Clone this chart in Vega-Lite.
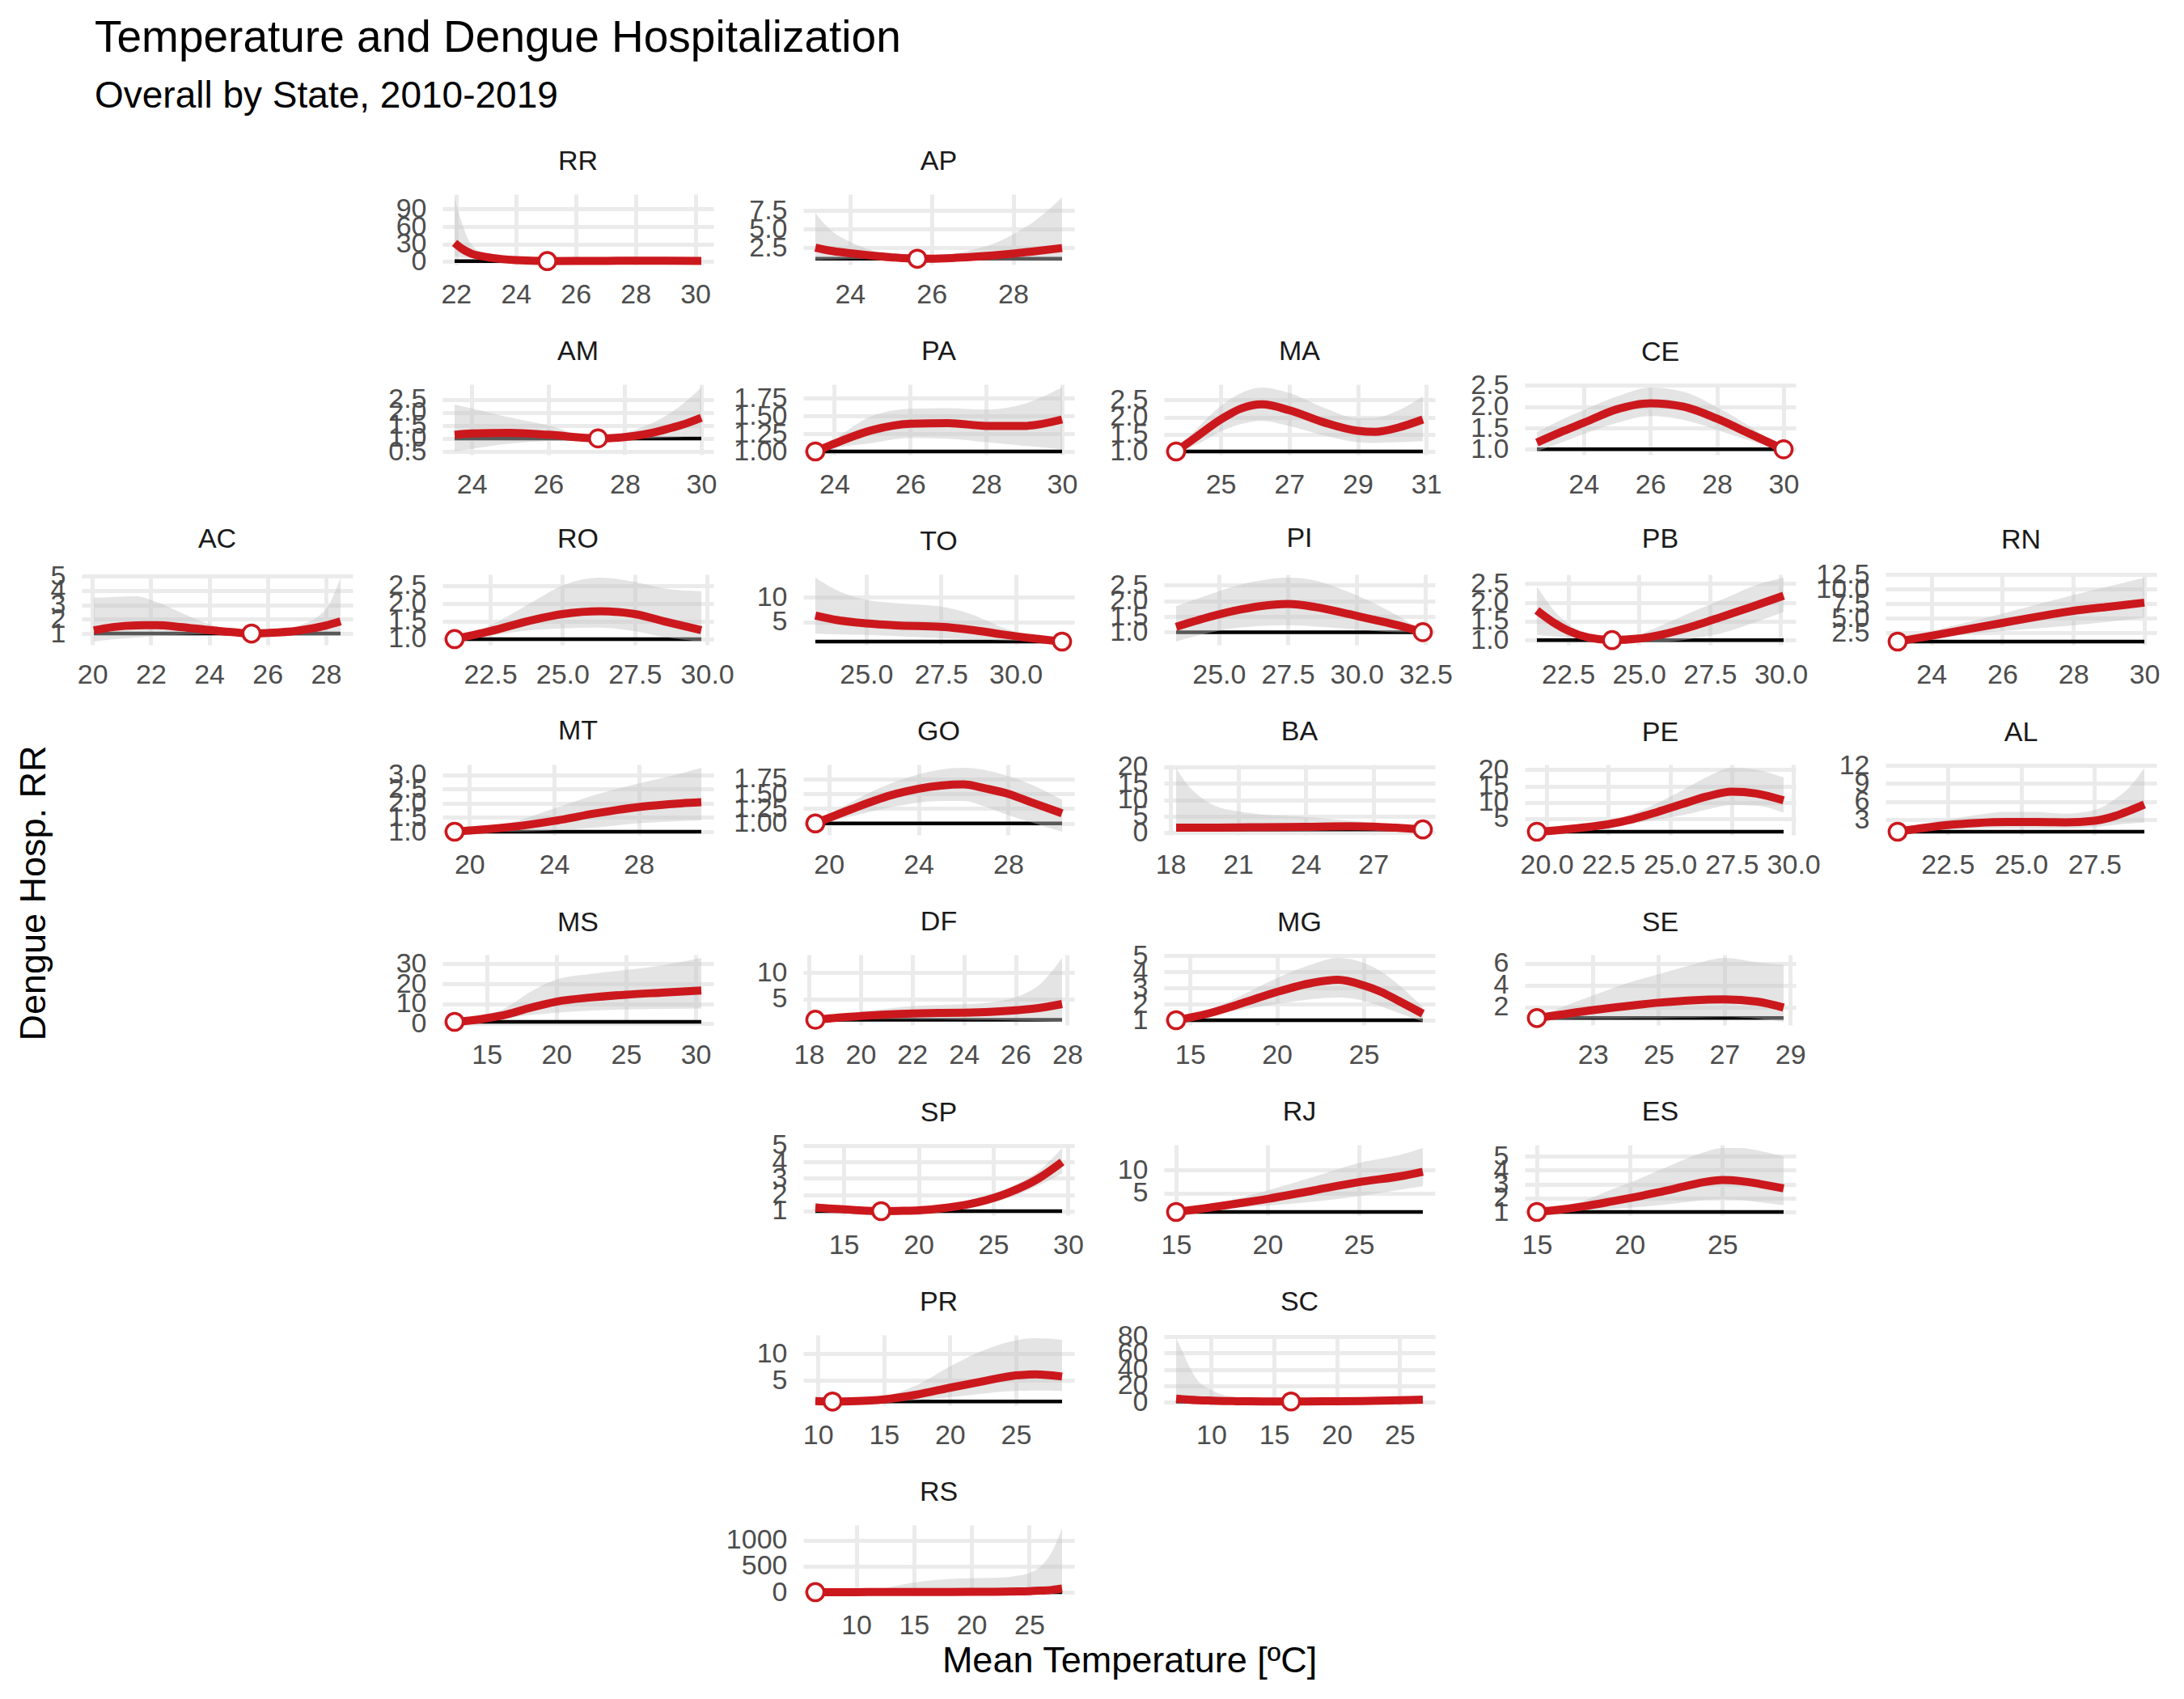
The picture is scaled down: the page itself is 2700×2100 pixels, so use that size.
{
"$schema": "https://vega.github.io/schema/vega-lite/v6.json",
"background": "white",
"padding": {"left": 20, "top": 20, "right": 5, "bottom": 5},
"config": {
  "font": "Liberation Sans",
  "view": {"stroke": null},
  "axis": {"grid": true, "gridColor": "#EBEBEB", "gridWidth": 5, "domain": false, "ticks": false, "labelFontSize": 34, "labelColor": "#4D4D4D", "labelPadding": 20, "labelOverlap": false, "labelFlush": false, "labelFont": "Liberation Sans"},
  "title": {"fontSize": 34, "fontWeight": "normal", "color": "#1A1A1A", "anchor": "middle", "frame": "group", "offset": 23, "baseline": "alphabetic", "font": "Liberation Sans"}
},
"datasets": {"d": [
{"s":"RR","t":21.95,"r":32,"lo":9,"hi":110},{"s":"RR","t":22.2,"r":22,"lo":7,"hi":65},{"s":"RR","t":22.5,"r":14,"lo":6,"hi":30},{"s":"RR","t":23,"r":8,"lo":4,"hi":13},{"s":"RR","t":23.5,"r":4.5,"lo":2.5,"hi":7},{"s":"RR","t":24,"r":2.5,"lo":1.5,"hi":4},{"s":"RR","t":25.05,"r":1,"lo":1,"hi":1,"m":1},{"s":"RR","t":26,"r":1.1,"lo":0.6,"hi":2},{"s":"RR","t":27,"r":1.3,"lo":0.6,"hi":2.5},{"s":"RR","t":28,"r":1.5,"lo":0.7,"hi":3},{"s":"RR","t":29,"r":1.4,"lo":0.6,"hi":3},{"s":"RR","t":30.2,"r":1.3,"lo":0.5,"hi":3},
{"s":"AP","t":23.15,"r":2.5,"lo":0.85,"hi":7.2},{"s":"AP","t":23.5,"r":2.1,"lo":0.9,"hi":5},{"s":"AP","t":24,"r":1.75,"lo":0.95,"hi":3.3},{"s":"AP","t":24.5,"r":1.45,"lo":0.97,"hi":2.2},{"s":"AP","t":25,"r":1.2,"lo":0.98,"hi":1.5},{"s":"AP","t":25.65,"r":1,"lo":1,"hi":1,"m":1},{"s":"AP","t":26.5,"r":1.1,"lo":0.8,"hi":1.6},{"s":"AP","t":27,"r":1.25,"lo":0.75,"hi":2.2},{"s":"AP","t":27.5,"r":1.45,"lo":0.72,"hi":3},{"s":"AP","t":28,"r":1.7,"lo":0.7,"hi":4.3},{"s":"AP","t":28.5,"r":2,"lo":0.68,"hi":6},{"s":"AP","t":29.2,"r":2.45,"lo":0.65,"hi":9.3},
{"s":"AM","t":23.55,"r":1.14,"lo":0.5,"hi":2.3},{"s":"AM","t":24,"r":1.19,"lo":0.6,"hi":2.15},{"s":"AM","t":25,"r":1.21,"lo":0.8,"hi":1.8},{"s":"AM","t":26,"r":1.14,"lo":0.9,"hi":1.5},{"s":"AM","t":27.3,"r":1,"lo":1,"hi":1,"m":1},{"s":"AM","t":28,"r":1.05,"lo":1,"hi":1.2},{"s":"AM","t":28.5,"r":1.15,"lo":1,"hi":1.45},{"s":"AM","t":29,"r":1.32,"lo":1.02,"hi":1.8},{"s":"AM","t":29.5,"r":1.52,"lo":1.05,"hi":2.3},{"s":"AM","t":30,"r":1.79,"lo":1.1,"hi":2.95},
{"s":"PA","t":23.5,"r":1,"lo":1,"hi":1,"m":1},{"s":"PA","t":24,"r":1.11,"lo":1.05,"hi":1.17},{"s":"PA","t":25,"r":1.3,"lo":1.12,"hi":1.5},{"s":"PA","t":26,"r":1.39,"lo":1.19,"hi":1.6},{"s":"PA","t":27,"r":1.4,"lo":1.18,"hi":1.61},{"s":"PA","t":28,"r":1.36,"lo":1.13,"hi":1.59},{"s":"PA","t":29,"r":1.36,"lo":1.08,"hi":1.67},{"s":"PA","t":30,"r":1.45,"lo":1.03,"hi":1.9},
{"s":"MA","t":23.7,"r":1,"lo":1,"hi":1,"m":1},{"s":"MA","t":24.3,"r":1.43,"lo":1.2,"hi":1.66},{"s":"MA","t":25,"r":1.93,"lo":1.58,"hi":2.32},{"s":"MA","t":25.6,"r":2.25,"lo":1.8,"hi":2.7},{"s":"MA","t":26.2,"r":2.37,"lo":1.89,"hi":2.86},{"s":"MA","t":27,"r":2.2,"lo":1.74,"hi":2.7},{"s":"MA","t":28,"r":1.85,"lo":1.47,"hi":2.28},{"s":"MA","t":29,"r":1.6,"lo":1.27,"hi":1.97},{"s":"MA","t":29.5,"r":1.57,"lo":1.25,"hi":1.98},{"s":"MA","t":30.2,"r":1.7,"lo":1.27,"hi":2.2},{"s":"MA","t":30.9,"r":1.93,"lo":1.3,"hi":2.6},
{"s":"CE","t":22.6,"r":1.16,"lo":0.95,"hi":1.4},{"s":"CE","t":23.3,"r":1.4,"lo":1.15,"hi":1.68},{"s":"CE","t":24,"r":1.62,"lo":1.36,"hi":1.92},{"s":"CE","t":25,"r":1.94,"lo":1.62,"hi":2.24},{"s":"CE","t":26,"r":2.08,"lo":1.78,"hi":2.45},{"s":"CE","t":27,"r":2,"lo":1.69,"hi":2.35},{"s":"CE","t":28,"r":1.72,"lo":1.46,"hi":1.99},{"s":"CE","t":29,"r":1.36,"lo":1.2,"hi":1.53},{"s":"CE","t":30,"r":1,"lo":1,"hi":1,"m":1},
{"s":"AC","t":20.05,"r":1.22,"lo":0.44,"hi":3.5},{"s":"AC","t":20.7,"r":1.45,"lo":0.6,"hi":3.55},{"s":"AC","t":21.5,"r":1.57,"lo":0.72,"hi":3.6},{"s":"AC","t":22.2,"r":1.58,"lo":0.83,"hi":3.2},{"s":"AC","t":23,"r":1.46,"lo":0.9,"hi":2.48},{"s":"AC","t":24,"r":1.24,"lo":0.96,"hi":1.65},{"s":"AC","t":25,"r":1.06,"lo":0.99,"hi":1.15},{"s":"AC","t":25.45,"r":1,"lo":1,"hi":1,"m":1},{"s":"AC","t":26,"r":1.04,"lo":0.96,"hi":1.1},{"s":"AC","t":27,"r":1.19,"lo":0.9,"hi":1.5},{"s":"AC","t":28,"r":1.56,"lo":0.86,"hi":2.7},{"s":"AC","t":28.5,"r":1.85,"lo":0.85,"hi":4.9},
{"s":"RO","t":21.27,"r":1,"lo":1,"hi":1,"m":1},{"s":"RO","t":22.5,"r":1.22,"lo":1.1,"hi":1.38},{"s":"RO","t":24,"r":1.54,"lo":1.26,"hi":2.06},{"s":"RO","t":25,"r":1.7,"lo":1.3,"hi":2.5},{"s":"RO","t":26.3,"r":1.78,"lo":1.32,"hi":2.72},{"s":"RO","t":27.5,"r":1.7,"lo":1.22,"hi":2.6},{"s":"RO","t":28.5,"r":1.5,"lo":1.06,"hi":2.42},{"s":"RO","t":29.8,"r":1.25,"lo":0.93,"hi":2.34},
{"s":"TO","t":23.3,"r":6.3,"lo":2.6,"hi":14},{"s":"TO","t":24,"r":5.4,"lo":2.5,"hi":11.5},{"s":"TO","t":25,"r":4.7,"lo":2.35,"hi":9.5},{"s":"TO","t":26,"r":4.3,"lo":2.1,"hi":8.8},{"s":"TO","t":27.5,"r":4,"lo":1.7,"hi":8.1},{"s":"TO","t":28.5,"r":3.4,"lo":1.5,"hi":6.6},{"s":"TO","t":29.5,"r":2.5,"lo":1.25,"hi":4},{"s":"TO","t":30.5,"r":1.7,"lo":1.1,"hi":2.2},{"s":"TO","t":31.55,"r":1,"lo":1,"hi":1,"m":1},
{"s":"PI","t":23.45,"r":1.17,"lo":0.7,"hi":1.83},{"s":"PI","t":24.5,"r":1.45,"lo":0.95,"hi":2.15},{"s":"PI","t":25.5,"r":1.67,"lo":1.12,"hi":2.45},{"s":"PI","t":26.5,"r":1.83,"lo":1.2,"hi":2.65},{"s":"PI","t":27.5,"r":1.9,"lo":1.22,"hi":2.74},{"s":"PI","t":28.5,"r":1.8,"lo":1.18,"hi":2.65},{"s":"PI","t":29.5,"r":1.62,"lo":1.12,"hi":2.35},{"s":"PI","t":30.5,"r":1.42,"lo":1.05,"hi":1.98},{"s":"PI","t":31.5,"r":1.22,"lo":1,"hi":1.52},{"s":"PI","t":32.4,"r":1,"lo":1,"hi":1,"m":1},
{"s":"PB","t":21.4,"r":1.79,"lo":1.14,"hi":2.43},{"s":"PB","t":22,"r":1.46,"lo":1.1,"hi":1.79},{"s":"PB","t":22.5,"r":1.25,"lo":1.07,"hi":1.43},{"s":"PB","t":23.2,"r":1.07,"lo":1.02,"hi":1.14},{"s":"PB","t":24.05,"r":1,"lo":1,"hi":1,"m":1},{"s":"PB","t":25,"r":1.04,"lo":0.96,"hi":1.15},{"s":"PB","t":26,"r":1.18,"lo":0.96,"hi":1.46},{"s":"PB","t":27,"r":1.39,"lo":1.05,"hi":1.79},{"s":"PB","t":28,"r":1.64,"lo":1.2,"hi":2.1},{"s":"PB","t":29,"r":1.89,"lo":1.45,"hi":2.43},{"s":"PB","t":30.1,"r":2.18,"lo":1.75,"hi":2.66},
{"s":"RN","t":23.05,"r":1,"lo":1,"hi":1,"m":1},{"s":"RN","t":24,"r":2,"lo":1.7,"hi":2.8},{"s":"RN","t":25,"r":3.1,"lo":2.3,"hi":4.3},{"s":"RN","t":26,"r":4.2,"lo":2.8,"hi":5.8},{"s":"RN","t":27,"r":5.3,"lo":3.3,"hi":7.4},{"s":"RN","t":28,"r":6.3,"lo":3.8,"hi":9},{"s":"RN","t":29,"r":7,"lo":4.4,"hi":10.5},{"s":"RN","t":30,"r":7.7,"lo":5.1,"hi":12},
{"s":"MT","t":19.3,"r":1,"lo":1,"hi":1,"m":1},{"s":"MT","t":20,"r":1.04,"lo":1,"hi":1.05},{"s":"MT","t":22,"r":1.17,"lo":1,"hi":1.33},{"s":"MT","t":24,"r":1.38,"lo":1.05,"hi":1.82},{"s":"MT","t":26,"r":1.65,"lo":1.15,"hi":2.31},{"s":"MT","t":28,"r":1.87,"lo":1.3,"hi":2.7},{"s":"MT","t":30,"r":2,"lo":1.38,"hi":3.05},{"s":"MT","t":30.95,"r":2.04,"lo":1.4,"hi":3.25},
{"s":"GO","t":19.4,"r":1,"lo":1,"hi":1,"m":1},{"s":"GO","t":21,"r":1.24,"lo":1.12,"hi":1.36},{"s":"GO","t":23,"r":1.5,"lo":1.29,"hi":1.71},{"s":"GO","t":25,"r":1.64,"lo":1.38,"hi":1.91},{"s":"GO","t":26,"r":1.66,"lo":1.38,"hi":1.94},{"s":"GO","t":27,"r":1.59,"lo":1.28,"hi":1.9},{"s":"GO","t":28,"r":1.5,"lo":1.14,"hi":1.8},{"s":"GO","t":29,"r":1.36,"lo":1.02,"hi":1.66},{"s":"GO","t":30.4,"r":1.17,"lo":0.86,"hi":1.4},
{"s":"BA","t":18.25,"r":1.5,"lo":0.3,"hi":19.7},{"s":"BA","t":18.7,"r":1.5,"lo":0.4,"hi":15},{"s":"BA","t":19.3,"r":1.52,"lo":0.5,"hi":11},{"s":"BA","t":20,"r":1.55,"lo":0.65,"hi":8.1},{"s":"BA","t":21,"r":1.6,"lo":0.8,"hi":6.5},{"s":"BA","t":22,"r":1.65,"lo":0.9,"hi":5.6},{"s":"BA","t":24,"r":1.8,"lo":1.05,"hi":4.8},{"s":"BA","t":26,"r":1.95,"lo":1.1,"hi":3.6},{"s":"BA","t":27,"r":1.85,"lo":1.1,"hi":2.9},{"s":"BA","t":28,"r":1.5,"lo":1.05,"hi":1.9},{"s":"BA","t":29.2,"r":1,"lo":1,"hi":1,"m":1},
{"s":"PE","t":19.6,"r":1,"lo":1,"hi":1,"m":1},{"s":"PE","t":20.5,"r":1.5,"lo":1.3,"hi":1.7},{"s":"PE","t":21.5,"r":2.3,"lo":1.8,"hi":2.8},{"s":"PE","t":22.5,"r":3.3,"lo":2.5,"hi":4.2},{"s":"PE","t":23.5,"r":4.9,"lo":3.5,"hi":6.6},{"s":"PE","t":24.5,"r":7.1,"lo":4.8,"hi":9.8},{"s":"PE","t":25.5,"r":9.5,"lo":6,"hi":13.7},{"s":"PE","t":26.5,"r":11.8,"lo":7.8,"hi":17.8},{"s":"PE","t":27.5,"r":13.3,"lo":9.2,"hi":20.6},{"s":"PE","t":28.5,"r":12.7,"lo":9,"hi":20},{"s":"PE","t":29.6,"r":10.6,"lo":6.8,"hi":17.6},
{"s":"AL","t":20.8,"r":1,"lo":1,"hi":1,"m":1},{"s":"AL","t":21.5,"r":1.5,"lo":1.15,"hi":2.1},{"s":"AL","t":22.5,"r":2.1,"lo":1.4,"hi":3},{"s":"AL","t":23.5,"r":2.45,"lo":1.55,"hi":3.8},{"s":"AL","t":24.5,"r":2.6,"lo":1.6,"hi":4.3},{"s":"AL","t":25.5,"r":2.6,"lo":1.55,"hi":4.3},{"s":"AL","t":26.5,"r":2.55,"lo":1.55,"hi":4},{"s":"AL","t":27.5,"r":2.8,"lo":1.75,"hi":4.6},{"s":"AL","t":28.2,"r":3.6,"lo":2.15,"hi":6.4},{"s":"AL","t":28.7,"r":4.5,"lo":2.35,"hi":8.4},{"s":"AL","t":29.2,"r":5.5,"lo":2.5,"hi":11.6},
{"s":"MS","t":12.7,"r":1,"lo":1,"hi":1,"m":1},{"s":"MS","t":14,"r":1.8,"lo":1.3,"hi":2.2},{"s":"MS","t":15,"r":2.8,"lo":1.7,"hi":4.2},{"s":"MS","t":16.5,"r":4.8,"lo":2.8,"hi":8.5},{"s":"MS","t":18,"r":7.8,"lo":4.3,"hi":15.5},{"s":"MS","t":20,"r":11.1,"lo":5.6,"hi":22.2},{"s":"MS","t":22.5,"r":13.2,"lo":6.7,"hi":25},{"s":"MS","t":25,"r":14.6,"lo":7.2,"hi":27},{"s":"MS","t":27.5,"r":15.6,"lo":7.5,"hi":29.2},{"s":"MS","t":30.4,"r":16.7,"lo":7.7,"hi":33},
{"s":"DF","t":18.25,"r":1,"lo":1,"hi":1,"m":1},{"s":"DF","t":19,"r":1.35,"lo":1.05,"hi":1.7},{"s":"DF","t":20,"r":1.7,"lo":1.1,"hi":2.5},{"s":"DF","t":21,"r":2,"lo":1.12,"hi":3.1},{"s":"DF","t":22,"r":2.2,"lo":1.1,"hi":3.6},{"s":"DF","t":23,"r":2.28,"lo":1.05,"hi":3.8},{"s":"DF","t":24,"r":2.35,"lo":1,"hi":3.95},{"s":"DF","t":25,"r":2.5,"lo":0.95,"hi":4.3},{"s":"DF","t":26,"r":2.8,"lo":0.85,"hi":5.3},{"s":"DF","t":27,"r":3.3,"lo":0.72,"hi":8},{"s":"DF","t":27.8,"r":4,"lo":0.6,"hi":12.8},
{"s":"MG","t":14.2,"r":1,"lo":1,"hi":1,"m":1},{"s":"MG","t":16,"r":1.4,"lo":1.25,"hi":1.57},{"s":"MG","t":18,"r":2.05,"lo":1.66,"hi":2.55},{"s":"MG","t":20,"r":2.75,"lo":2,"hi":3.6},{"s":"MG","t":22,"r":3.3,"lo":2.3,"hi":4.45},{"s":"MG","t":23.5,"r":3.5,"lo":2.4,"hi":4.85},{"s":"MG","t":25,"r":3.15,"lo":2.2,"hi":4.55},{"s":"MG","t":26,"r":2.75,"lo":1.85,"hi":4},{"s":"MG","t":27,"r":2.2,"lo":1.45,"hi":3.2},{"s":"MG","t":28.4,"r":1.4,"lo":0.9,"hi":1.8},
{"s":"SE","t":21.3,"r":1,"lo":1,"hi":1,"m":1},{"s":"SE","t":22,"r":1.3,"lo":0.88,"hi":1.9},{"s":"SE","t":23,"r":1.72,"lo":0.92,"hi":3.05},{"s":"SE","t":24,"r":2.08,"lo":0.95,"hi":4.15},{"s":"SE","t":25,"r":2.4,"lo":0.97,"hi":5},{"s":"SE","t":26,"r":2.62,"lo":1.02,"hi":5.85},{"s":"SE","t":27,"r":2.7,"lo":1.08,"hi":6.5},{"s":"SE","t":28,"r":2.5,"lo":0.95,"hi":6.1},{"s":"SE","t":28.8,"r":1.95,"lo":0.65,"hi":5.85},
{"s":"SP","t":13.1,"r":1.22,"lo":0.95,"hi":1.5},{"s":"SP","t":14,"r":1.16,"lo":0.97,"hi":1.35},{"s":"SP","t":15,"r":1.11,"lo":1,"hi":1.22},{"s":"SP","t":16,"r":1.05,"lo":1,"hi":1.1},{"s":"SP","t":17.5,"r":1,"lo":1,"hi":1,"m":1},{"s":"SP","t":19,"r":1.02,"lo":0.98,"hi":1.1},{"s":"SP","t":20,"r":1.05,"lo":0.98,"hi":1.17},{"s":"SP","t":22,"r":1.22,"lo":1.05,"hi":1.42},{"s":"SP","t":24,"r":1.55,"lo":1.3,"hi":1.83},{"s":"SP","t":26,"r":2.12,"lo":1.8,"hi":2.42},{"s":"SP","t":28,"r":2.98,"lo":2.55,"hi":3.42},{"s":"SP","t":29.6,"r":4,"lo":3.3,"hi":4.85},
{"s":"RJ","t":15,"r":1,"lo":1,"hi":1,"m":1},{"s":"RJ","t":16.5,"r":1.75,"lo":1.4,"hi":2.1},{"s":"RJ","t":18,"r":2.6,"lo":1.9,"hi":3.5},{"s":"RJ","t":20,"r":3.8,"lo":2.35,"hi":5.6},{"s":"RJ","t":22.5,"r":5.6,"lo":3.2,"hi":8.5},{"s":"RJ","t":25,"r":7.4,"lo":4.4,"hi":11.5},{"s":"RJ","t":27.5,"r":8.8,"lo":5.9,"hi":13.5},{"s":"RJ","t":28.5,"r":9.6,"lo":6.5,"hi":14.7},
{"s":"ES","t":15,"r":1,"lo":1,"hi":1,"m":1},{"s":"ES","t":16,"r":1.13,"lo":1.05,"hi":1.3},{"s":"ES","t":17.5,"r":1.4,"lo":1.1,"hi":1.8},{"s":"ES","t":19,"r":1.75,"lo":1.22,"hi":2.6},{"s":"ES","t":20,"r":2,"lo":1.3,"hi":3.1},{"s":"ES","t":21.5,"r":2.4,"lo":1.48,"hi":3.95},{"s":"ES","t":23,"r":2.85,"lo":1.7,"hi":4.8},{"s":"ES","t":24,"r":3.15,"lo":1.86,"hi":5.3},{"s":"ES","t":25,"r":3.3,"lo":1.9,"hi":5.6},{"s":"ES","t":26,"r":3.22,"lo":1.86,"hi":5.6},{"s":"ES","t":27,"r":3.02,"lo":1.7,"hi":5.4},{"s":"ES","t":28.3,"r":2.7,"lo":1.5,"hi":5},
{"s":"PR","t":9.8,"r":1.08,"lo":0.9,"hi":1.3},{"s":"PR","t":11.1,"r":1,"lo":1,"hi":1,"m":1},{"s":"PR","t":12.5,"r":1.05,"lo":0.95,"hi":1.2},{"s":"PR","t":14,"r":1.2,"lo":0.98,"hi":1.6},{"s":"PR","t":15,"r":1.4,"lo":1,"hi":2},{"s":"PR","t":17.5,"r":2.3,"lo":1.25,"hi":4.1},{"s":"PR","t":20,"r":3.6,"lo":1.8,"hi":7.6},{"s":"PR","t":22.5,"r":4.8,"lo":2.5,"hi":10.6},{"s":"PR","t":25,"r":5.9,"lo":3,"hi":12.5},{"s":"PR","t":26.5,"r":6.1,"lo":3.05,"hi":12.9},{"s":"PR","t":28.5,"r":5.7,"lo":3,"hi":12.6},
{"s":"SC","t":7.2,"r":4.5,"lo":0.25,"hi":78},{"s":"SC","t":7.7,"r":3.8,"lo":0.25,"hi":62},{"s":"SC","t":8.2,"r":3.2,"lo":0.25,"hi":45},{"s":"SC","t":9,"r":2.5,"lo":0.3,"hi":25},{"s":"SC","t":10,"r":2,"lo":0.35,"hi":15},{"s":"SC","t":11,"r":1.6,"lo":0.4,"hi":8.5},{"s":"SC","t":12,"r":1.35,"lo":0.45,"hi":5},{"s":"SC","t":14,"r":1.1,"lo":0.6,"hi":2.2},{"s":"SC","t":16.35,"r":1,"lo":1,"hi":1,"m":1},{"s":"SC","t":19,"r":1.15,"lo":0.8,"hi":1.8},{"s":"SC","t":22,"r":1.6,"lo":0.85,"hi":3},{"s":"SC","t":25,"r":2.5,"lo":1.2,"hi":4.8},{"s":"SC","t":26.85,"r":3.3,"lo":1.6,"hi":6.5},
{"s":"RS","t":6.45,"r":1,"lo":1,"hi":1,"m":1},{"s":"RS","t":8,"r":1.5,"lo":0.5,"hi":3},{"s":"RS","t":10,"r":2,"lo":0.4,"hi":10},{"s":"RS","t":12,"r":3,"lo":0.3,"hi":60},{"s":"RS","t":14,"r":4,"lo":0.3,"hi":150},{"s":"RS","t":16,"r":5,"lo":0.3,"hi":220},{"s":"RS","t":18,"r":6,"lo":0.3,"hi":255},{"s":"RS","t":20,"r":8,"lo":0.35,"hi":270},{"s":"RS","t":22,"r":10,"lo":0.4,"hi":275},{"s":"RS","t":24,"r":15,"lo":0.6,"hi":320},{"s":"RS","t":25,"r":20,"lo":0.8,"hi":370},{"s":"RS","t":26,"r":30,"lo":1.1,"hi":500},{"s":"RS","t":27,"r":45,"lo":1.5,"hi":790},{"s":"RS","t":27.85,"r":70,"lo":2,"hi":1230}
]},
"data": {"name": "d"},
"title": {"text": "Temperature and Dengue Hospitalization", "subtitle": "Overall by State, 2010-2019", "anchor": "start", "frame": "group", "fontSize": 55, "subtitleFontSize": 46, "font": "Liberation Sans", "subtitleFont": "Liberation Sans", "fontWeight": "normal", "color": "black", "subtitleColor": "black", "offset": -3, "subtitlePadding": 14, "dx": 85, "baseline": "alphabetic"},
"bounds": "flush",
"spacing": 49,
"hconcat": [
 {"width": 20, "height": 1728, "data": {"values": [{}]}, "mark": {"type": "text", "text": "Dengue Hosp. RR", "angle": 270, "fontSize": 45, "color": "black", "baseline": "middle", "align": "center"}},
 {"title": {"text": "Mean Temperature [ºC]", "orient": "bottom", "anchor": "middle", "frame": "bounds", "fontSize": 45, "color": "black", "baseline": "top", "offset": 5, "dx": 30},
  "columns": 6, "spacing": {"row": 148, "column": 111}, "bounds": "flush", "concat": [
   {"width":335,"height":87,"data":{"values":[]},"mark":"point"},
   {"title":"RR","width":335,"height":87,"transform":[{"filter":"datum.s=='RR'"}],"encoding":{"x":{"field":"t","type":"quantitative","title":null,"scale":{"zero":false,"nice":false,"padding":15},"axis":{"values":[22,24,26,28,30],"format":"d"}},"y":{"field":"r","type":"quantitative","title":null,"scale":{"zero":false,"nice":false,"padding":4},"axis":{"values":[0,30,60,90],"format":"d"}}},"layer":[{"mark":{"type":"line","color":"black","strokeWidth":4.5},"encoding":{"y":{"datum":1}}},{"mark":{"type":"area","interpolate":"monotone","fill":"#C4C4C4","fillOpacity":0.45},"encoding":{"y":{"field":"lo","type":"quantitative","title":null},"y2":{"field":"hi"}}},{"mark":{"type":"line","interpolate":"monotone","color":"#CB181D","strokeWidth":10}},{"transform":[{"filter":"datum.m==1"}],"mark":{"type":"point","filled":true,"fill":"white","stroke":"#CB181D","strokeWidth":3.5,"size":450,"opacity":1}}]},
   {"title":"AP","width":335,"height":87,"transform":[{"filter":"datum.s=='AP'"}],"encoding":{"x":{"field":"t","type":"quantitative","title":null,"scale":{"zero":false,"nice":false,"padding":15},"axis":{"values":[24,26,28],"format":"d"}},"y":{"field":"r","type":"quantitative","title":null,"scale":{"zero":false,"nice":false,"padding":4},"axis":{"values":[2.5,5,7.5],"format":".1f"}}},"layer":[{"mark":{"type":"line","color":"black","strokeWidth":4.5},"encoding":{"y":{"datum":1}}},{"mark":{"type":"area","interpolate":"monotone","fill":"#C4C4C4","fillOpacity":0.45},"encoding":{"y":{"field":"lo","type":"quantitative","title":null},"y2":{"field":"hi"}}},{"mark":{"type":"line","interpolate":"monotone","color":"#CB181D","strokeWidth":10}},{"transform":[{"filter":"datum.m==1"}],"mark":{"type":"point","filled":true,"fill":"white","stroke":"#CB181D","strokeWidth":3.5,"size":450,"opacity":1}}]},
   {"width":335,"height":87,"data":{"values":[]},"mark":"point"},
   {"width":335,"height":87,"data":{"values":[]},"mark":"point"},
   {"width":335,"height":87,"data":{"values":[]},"mark":"point"},

   {"width":335,"height":87,"data":{"values":[]},"mark":"point"},
   {"title":"AM","width":335,"height":87,"transform":[{"filter":"datum.s=='AM'"}],"encoding":{"x":{"field":"t","type":"quantitative","title":null,"scale":{"zero":false,"nice":false,"padding":15},"axis":{"values":[24,26,28,30],"format":"d"}},"y":{"field":"r","type":"quantitative","title":null,"scale":{"zero":false,"nice":false,"padding":4},"axis":{"values":[0.5,1,1.5,2,2.5],"format":".1f"}}},"layer":[{"mark":{"type":"line","color":"black","strokeWidth":4.5},"encoding":{"y":{"datum":1}}},{"mark":{"type":"area","interpolate":"monotone","fill":"#C4C4C4","fillOpacity":0.45},"encoding":{"y":{"field":"lo","type":"quantitative","title":null},"y2":{"field":"hi"}}},{"mark":{"type":"line","interpolate":"monotone","color":"#CB181D","strokeWidth":10}},{"transform":[{"filter":"datum.m==1"}],"mark":{"type":"point","filled":true,"fill":"white","stroke":"#CB181D","strokeWidth":3.5,"size":450,"opacity":1}}]},
   {"title":"PA","width":335,"height":87,"transform":[{"filter":"datum.s=='PA'"}],"encoding":{"x":{"field":"t","type":"quantitative","title":null,"scale":{"zero":false,"nice":false,"padding":15},"axis":{"values":[24,26,28,30],"format":"d"}},"y":{"field":"r","type":"quantitative","title":null,"scale":{"zero":false,"nice":false,"padding":4},"axis":{"values":[1,1.25,1.5,1.75],"format":".2f"}}},"layer":[{"mark":{"type":"line","color":"black","strokeWidth":4.5},"encoding":{"y":{"datum":1}}},{"mark":{"type":"area","interpolate":"monotone","fill":"#C4C4C4","fillOpacity":0.45},"encoding":{"y":{"field":"lo","type":"quantitative","title":null},"y2":{"field":"hi"}}},{"mark":{"type":"line","interpolate":"monotone","color":"#CB181D","strokeWidth":10}},{"transform":[{"filter":"datum.m==1"}],"mark":{"type":"point","filled":true,"fill":"white","stroke":"#CB181D","strokeWidth":3.5,"size":450,"opacity":1}}]},
   {"title":"MA","width":335,"height":87,"transform":[{"filter":"datum.s=='MA'"}],"encoding":{"x":{"field":"t","type":"quantitative","title":null,"scale":{"zero":false,"nice":false,"padding":15},"axis":{"values":[25,27,29,31],"format":"d"}},"y":{"field":"r","type":"quantitative","title":null,"scale":{"zero":false,"nice":false,"padding":4},"axis":{"values":[1,1.5,2,2.5],"format":".1f"}}},"layer":[{"mark":{"type":"line","color":"black","strokeWidth":4.5},"encoding":{"y":{"datum":1}}},{"mark":{"type":"area","interpolate":"monotone","fill":"#C4C4C4","fillOpacity":0.45},"encoding":{"y":{"field":"lo","type":"quantitative","title":null},"y2":{"field":"hi"}}},{"mark":{"type":"line","interpolate":"monotone","color":"#CB181D","strokeWidth":10}},{"transform":[{"filter":"datum.m==1"}],"mark":{"type":"point","filled":true,"fill":"white","stroke":"#CB181D","strokeWidth":3.5,"size":450,"opacity":1}}]},
   {"title":{"text":"CE","offset":6},"width":335,"height":87,"transform":[{"filter":"datum.s=='CE'"}],"encoding":{"x":{"field":"t","type":"quantitative","title":null,"scale":{"zero":false,"nice":false,"padding":15},"axis":{"values":[24,26,28,30],"format":"d"}},"y":{"field":"r","type":"quantitative","title":null,"scale":{"zero":false,"nice":false,"padding":4},"axis":{"values":[1,1.5,2,2.5],"format":".1f"}}},"layer":[{"mark":{"type":"line","color":"black","strokeWidth":4.5},"encoding":{"y":{"datum":1}}},{"mark":{"type":"area","interpolate":"monotone","fill":"#C4C4C4","fillOpacity":0.45},"encoding":{"y":{"field":"lo","type":"quantitative","title":null},"y2":{"field":"hi"}}},{"mark":{"type":"line","interpolate":"monotone","color":"#CB181D","strokeWidth":10}},{"transform":[{"filter":"datum.m==1"}],"mark":{"type":"point","filled":true,"fill":"white","stroke":"#CB181D","strokeWidth":3.5,"size":450,"opacity":1}}]},
   {"width":335,"height":87,"data":{"values":[]},"mark":"point"},

   {"title":{"text":"AC","offset":11},"width":335,"height":87,"transform":[{"filter":"datum.s=='AC'"}],"encoding":{"x":{"field":"t","type":"quantitative","title":null,"scale":{"zero":false,"nice":false,"padding":15},"axis":{"values":[20,22,24,26,28],"format":"d"}},"y":{"field":"r","type":"quantitative","title":null,"scale":{"zero":false,"nice":false,"padding":4},"axis":{"values":[1,2,3,4,5],"format":"d"}}},"layer":[{"mark":{"type":"line","color":"black","strokeWidth":4.5},"encoding":{"y":{"datum":1}}},{"mark":{"type":"area","interpolate":"monotone","fill":"#C4C4C4","fillOpacity":0.45},"encoding":{"y":{"field":"lo","type":"quantitative","title":null},"y2":{"field":"hi"}}},{"mark":{"type":"line","interpolate":"monotone","color":"#CB181D","strokeWidth":10}},{"transform":[{"filter":"datum.m==1"}],"mark":{"type":"point","filled":true,"fill":"white","stroke":"#CB181D","strokeWidth":3.5,"size":450,"opacity":1}}]},
   {"title":"RO","width":335,"height":87,"transform":[{"filter":"datum.s=='RO'"}],"encoding":{"x":{"field":"t","type":"quantitative","title":null,"scale":{"zero":false,"nice":false,"padding":15},"axis":{"values":[22.5,25,27.5,30],"format":".1f"}},"y":{"field":"r","type":"quantitative","title":null,"scale":{"zero":false,"nice":false,"padding":4},"axis":{"values":[1,1.5,2,2.5],"format":".1f"}}},"layer":[{"mark":{"type":"line","color":"black","strokeWidth":4.5},"encoding":{"y":{"datum":1}}},{"mark":{"type":"area","interpolate":"monotone","fill":"#C4C4C4","fillOpacity":0.45},"encoding":{"y":{"field":"lo","type":"quantitative","title":null},"y2":{"field":"hi"}}},{"mark":{"type":"line","interpolate":"monotone","color":"#CB181D","strokeWidth":10}},{"transform":[{"filter":"datum.m==1"}],"mark":{"type":"point","filled":true,"fill":"white","stroke":"#CB181D","strokeWidth":3.5,"size":450,"opacity":1}}]},
   {"title":"TO","width":335,"height":87,"transform":[{"filter":"datum.s=='TO'"}],"encoding":{"x":{"field":"t","type":"quantitative","title":null,"scale":{"zero":false,"nice":false,"padding":15},"axis":{"values":[25,27.5,30],"format":".1f"}},"y":{"field":"r","type":"quantitative","title":null,"scale":{"zero":false,"nice":false,"padding":4},"axis":{"values":[5,10],"format":"d"}}},"layer":[{"mark":{"type":"line","color":"black","strokeWidth":4.5},"encoding":{"y":{"datum":1}}},{"mark":{"type":"area","interpolate":"monotone","fill":"#C4C4C4","fillOpacity":0.45},"encoding":{"y":{"field":"lo","type":"quantitative","title":null},"y2":{"field":"hi"}}},{"mark":{"type":"line","interpolate":"monotone","color":"#CB181D","strokeWidth":10}},{"transform":[{"filter":"datum.m==1"}],"mark":{"type":"point","filled":true,"fill":"white","stroke":"#CB181D","strokeWidth":3.5,"size":450,"opacity":1}}]},
   {"title":"PI","width":335,"height":87,"transform":[{"filter":"datum.s=='PI'"}],"encoding":{"x":{"field":"t","type":"quantitative","title":null,"scale":{"zero":false,"nice":false,"padding":15},"axis":{"values":[25,27.5,30,32.5],"format":".1f"}},"y":{"field":"r","type":"quantitative","title":null,"scale":{"zero":false,"nice":false,"padding":4},"axis":{"values":[1,1.5,2,2.5],"format":".1f"}}},"layer":[{"mark":{"type":"line","color":"black","strokeWidth":4.5},"encoding":{"y":{"datum":1}}},{"mark":{"type":"area","interpolate":"monotone","fill":"#C4C4C4","fillOpacity":0.45},"encoding":{"y":{"field":"lo","type":"quantitative","title":null},"y2":{"field":"hi"}}},{"mark":{"type":"line","interpolate":"monotone","color":"#CB181D","strokeWidth":10}},{"transform":[{"filter":"datum.m==1"}],"mark":{"type":"point","filled":true,"fill":"white","stroke":"#CB181D","strokeWidth":3.5,"size":450,"opacity":1}}]},
   {"title":{"text":"PB","offset":20},"width":335,"height":87,"transform":[{"filter":"datum.s=='PB'"}],"encoding":{"x":{"field":"t","type":"quantitative","title":null,"scale":{"zero":false,"nice":false,"padding":15},"axis":{"values":[22.5,25,27.5,30],"format":".1f"}},"y":{"field":"r","type":"quantitative","title":null,"scale":{"zero":false,"nice":false,"padding":4},"axis":{"values":[1,1.5,2,2.5],"format":".1f"}}},"layer":[{"mark":{"type":"line","color":"black","strokeWidth":4.5},"encoding":{"y":{"datum":1}}},{"mark":{"type":"area","interpolate":"monotone","fill":"#C4C4C4","fillOpacity":0.45},"encoding":{"y":{"field":"lo","type":"quantitative","title":null},"y2":{"field":"hi"}}},{"mark":{"type":"line","interpolate":"monotone","color":"#CB181D","strokeWidth":10}},{"transform":[{"filter":"datum.m==1"}],"mark":{"type":"point","filled":true,"fill":"white","stroke":"#CB181D","strokeWidth":3.5,"size":450,"opacity":1}}]},
   {"title":{"text":"RN","offset":8},"width":335,"height":87,"transform":[{"filter":"datum.s=='RN'"}],"encoding":{"x":{"field":"t","type":"quantitative","title":null,"scale":{"zero":false,"nice":false,"padding":15},"axis":{"values":[24,26,28,30],"format":"d"}},"y":{"field":"r","type":"quantitative","title":null,"scale":{"zero":false,"nice":false,"padding":4},"axis":{"values":[2.5,5,7.5,10,12.5],"format":".1f"}}},"layer":[{"mark":{"type":"line","color":"black","strokeWidth":4.5},"encoding":{"y":{"datum":1}}},{"mark":{"type":"area","interpolate":"monotone","fill":"#C4C4C4","fillOpacity":0.45},"encoding":{"y":{"field":"lo","type":"quantitative","title":null},"y2":{"field":"hi"}}},{"mark":{"type":"line","interpolate":"monotone","color":"#CB181D","strokeWidth":10}},{"transform":[{"filter":"datum.m==1"}],"mark":{"type":"point","filled":true,"fill":"white","stroke":"#CB181D","strokeWidth":3.5,"size":450,"opacity":1}}]},

   {"width":335,"height":87,"data":{"values":[]},"mark":"point"},
   {"title":{"text":"MT","offset":20},"width":335,"height":87,"transform":[{"filter":"datum.s=='MT'"}],"encoding":{"x":{"field":"t","type":"quantitative","title":null,"scale":{"zero":false,"nice":false,"padding":15},"axis":{"values":[20,24,28],"format":"d"}},"y":{"field":"r","type":"quantitative","title":null,"scale":{"zero":false,"nice":false,"padding":4},"axis":{"values":[1,1.5,2,2.5,3],"format":".1f"}}},"layer":[{"mark":{"type":"line","color":"black","strokeWidth":4.5},"encoding":{"y":{"datum":1}}},{"mark":{"type":"area","interpolate":"monotone","fill":"#C4C4C4","fillOpacity":0.45},"encoding":{"y":{"field":"lo","type":"quantitative","title":null},"y2":{"field":"hi"}}},{"mark":{"type":"line","interpolate":"monotone","color":"#CB181D","strokeWidth":10}},{"transform":[{"filter":"datum.m==1"}],"mark":{"type":"point","filled":true,"fill":"white","stroke":"#CB181D","strokeWidth":3.5,"size":450,"opacity":1}}]},
   {"title":"GO","width":335,"height":87,"transform":[{"filter":"datum.s=='GO'"}],"encoding":{"x":{"field":"t","type":"quantitative","title":null,"scale":{"zero":false,"nice":false,"padding":15},"axis":{"values":[20,24,28],"format":"d"}},"y":{"field":"r","type":"quantitative","title":null,"scale":{"zero":false,"nice":false,"padding":4},"axis":{"values":[1,1.25,1.5,1.75],"format":".2f"}}},"layer":[{"mark":{"type":"line","color":"black","strokeWidth":4.5},"encoding":{"y":{"datum":1}}},{"mark":{"type":"area","interpolate":"monotone","fill":"#C4C4C4","fillOpacity":0.45},"encoding":{"y":{"field":"lo","type":"quantitative","title":null},"y2":{"field":"hi"}}},{"mark":{"type":"line","interpolate":"monotone","color":"#CB181D","strokeWidth":10}},{"transform":[{"filter":"datum.m==1"}],"mark":{"type":"point","filled":true,"fill":"white","stroke":"#CB181D","strokeWidth":3.5,"size":450,"opacity":1}}]},
   {"title":{"text":"BA","offset":9},"width":335,"height":87,"transform":[{"filter":"datum.s=='BA'"}],"encoding":{"x":{"field":"t","type":"quantitative","title":null,"scale":{"zero":false,"nice":false,"padding":15},"axis":{"values":[18,21,24,27],"format":"d"}},"y":{"field":"r","type":"quantitative","title":null,"scale":{"zero":false,"nice":false,"padding":4},"axis":{"values":[0,5,10,15,20],"format":"d"}}},"layer":[{"mark":{"type":"line","color":"black","strokeWidth":4.5},"encoding":{"y":{"datum":1}}},{"mark":{"type":"area","interpolate":"monotone","fill":"#C4C4C4","fillOpacity":0.45},"encoding":{"y":{"field":"lo","type":"quantitative","title":null},"y2":{"field":"hi"}}},{"mark":{"type":"line","interpolate":"monotone","color":"#CB181D","strokeWidth":10}},{"transform":[{"filter":"datum.m==1"}],"mark":{"type":"point","filled":true,"fill":"white","stroke":"#CB181D","strokeWidth":3.5,"size":450,"opacity":1}}]},
   {"title":{"text":"PE","offset":11},"width":335,"height":87,"transform":[{"filter":"datum.s=='PE'"}],"encoding":{"x":{"field":"t","type":"quantitative","title":null,"scale":{"zero":false,"nice":false,"padding":15},"axis":{"values":[20,22.5,25,27.5,30],"format":".1f"}},"y":{"field":"r","type":"quantitative","title":null,"scale":{"zero":false,"nice":false,"padding":4},"axis":{"values":[0,5,10,15,20],"format":"d"}}},"layer":[{"mark":{"type":"line","color":"black","strokeWidth":4.5},"encoding":{"y":{"datum":1}}},{"mark":{"type":"area","interpolate":"monotone","fill":"#C4C4C4","fillOpacity":0.45},"encoding":{"y":{"field":"lo","type":"quantitative","title":null},"y2":{"field":"hi"}}},{"mark":{"type":"line","interpolate":"monotone","color":"#CB181D","strokeWidth":10}},{"transform":[{"filter":"datum.m==1"}],"mark":{"type":"point","filled":true,"fill":"white","stroke":"#CB181D","strokeWidth":3.5,"size":450,"opacity":1}}]},
   {"title":{"text":"AL","offset":6},"width":335,"height":87,"transform":[{"filter":"datum.s=='AL'"}],"encoding":{"x":{"field":"t","type":"quantitative","title":null,"scale":{"zero":false,"nice":false,"padding":15},"axis":{"values":[22.5,25,27.5],"format":".1f"}},"y":{"field":"r","type":"quantitative","title":null,"scale":{"zero":false,"nice":false,"padding":4},"axis":{"values":[3,6,9,12],"format":"d"}}},"layer":[{"mark":{"type":"line","color":"black","strokeWidth":4.5},"encoding":{"y":{"datum":1}}},{"mark":{"type":"area","interpolate":"monotone","fill":"#C4C4C4","fillOpacity":0.45},"encoding":{"y":{"field":"lo","type":"quantitative","title":null},"y2":{"field":"hi"}}},{"mark":{"type":"line","interpolate":"monotone","color":"#CB181D","strokeWidth":10}},{"transform":[{"filter":"datum.m==1"}],"mark":{"type":"point","filled":true,"fill":"white","stroke":"#CB181D","strokeWidth":3.5,"size":450,"opacity":1}}]},

   {"width":335,"height":87,"data":{"values":[]},"mark":"point"},
   {"title":{"text":"MS","offset":16},"width":335,"height":87,"transform":[{"filter":"datum.s=='MS'"}],"encoding":{"x":{"field":"t","type":"quantitative","title":null,"scale":{"zero":false,"nice":false,"padding":15},"axis":{"values":[15,20,25,30],"format":"d"}},"y":{"field":"r","type":"quantitative","title":null,"scale":{"zero":false,"nice":false,"padding":4},"axis":{"values":[0,10,20,30],"format":"d"}}},"layer":[{"mark":{"type":"line","color":"black","strokeWidth":4.5},"encoding":{"y":{"datum":1}}},{"mark":{"type":"area","interpolate":"monotone","fill":"#C4C4C4","fillOpacity":0.45},"encoding":{"y":{"field":"lo","type":"quantitative","title":null},"y2":{"field":"hi"}}},{"mark":{"type":"line","interpolate":"monotone","color":"#CB181D","strokeWidth":10}},{"transform":[{"filter":"datum.m==1"}],"mark":{"type":"point","filled":true,"fill":"white","stroke":"#CB181D","strokeWidth":3.5,"size":450,"opacity":1}}]},
   {"title":"DF","width":335,"height":87,"transform":[{"filter":"datum.s=='DF'"}],"encoding":{"x":{"field":"t","type":"quantitative","title":null,"scale":{"zero":false,"nice":false,"padding":15},"axis":{"values":[18,20,22,24,26,28],"format":"d"}},"y":{"field":"r","type":"quantitative","title":null,"scale":{"zero":false,"nice":false,"padding":4},"axis":{"values":[5,10],"format":"d"}}},"layer":[{"mark":{"type":"line","color":"black","strokeWidth":4.5},"encoding":{"y":{"datum":1}}},{"mark":{"type":"area","interpolate":"monotone","fill":"#C4C4C4","fillOpacity":0.45},"encoding":{"y":{"field":"lo","type":"quantitative","title":null},"y2":{"field":"hi"}}},{"mark":{"type":"line","interpolate":"monotone","color":"#CB181D","strokeWidth":10}},{"transform":[{"filter":"datum.m==1"}],"mark":{"type":"point","filled":true,"fill":"white","stroke":"#CB181D","strokeWidth":3.5,"size":450,"opacity":1}}]},
   {"title":{"text":"MG","offset":6},"width":335,"height":87,"transform":[{"filter":"datum.s=='MG'"}],"encoding":{"x":{"field":"t","type":"quantitative","title":null,"scale":{"zero":false,"nice":false,"padding":15},"axis":{"values":[15,20,25],"format":"d"}},"y":{"field":"r","type":"quantitative","title":null,"scale":{"zero":false,"nice":false,"padding":4},"axis":{"values":[1,2,3,4,5],"format":"d"}}},"layer":[{"mark":{"type":"line","color":"black","strokeWidth":4.5},"encoding":{"y":{"datum":1}}},{"mark":{"type":"area","interpolate":"monotone","fill":"#C4C4C4","fillOpacity":0.45},"encoding":{"y":{"field":"lo","type":"quantitative","title":null},"y2":{"field":"hi"}}},{"mark":{"type":"line","interpolate":"monotone","color":"#CB181D","strokeWidth":10}},{"transform":[{"filter":"datum.m==1"}],"mark":{"type":"point","filled":true,"fill":"white","stroke":"#CB181D","strokeWidth":3.5,"size":450,"opacity":1}}]},
   {"title":{"text":"SE","offset":16},"width":335,"height":87,"transform":[{"filter":"datum.s=='SE'"}],"encoding":{"x":{"field":"t","type":"quantitative","title":null,"scale":{"zero":false,"nice":false,"padding":15},"axis":{"values":[23,25,27,29],"format":"d"}},"y":{"field":"r","type":"quantitative","title":null,"scale":{"zero":false,"nice":false,"padding":4},"axis":{"values":[2,4,6],"format":"d"}}},"layer":[{"mark":{"type":"line","color":"black","strokeWidth":4.5},"encoding":{"y":{"datum":1}}},{"mark":{"type":"area","interpolate":"monotone","fill":"#C4C4C4","fillOpacity":0.45},"encoding":{"y":{"field":"lo","type":"quantitative","title":null},"y2":{"field":"hi"}}},{"mark":{"type":"line","interpolate":"monotone","color":"#CB181D","strokeWidth":10}},{"transform":[{"filter":"datum.m==1"}],"mark":{"type":"point","filled":true,"fill":"white","stroke":"#CB181D","strokeWidth":3.5,"size":450,"opacity":1}}]},
   {"width":335,"height":87,"data":{"values":[]},"mark":"point"},

   {"width":335,"height":87,"data":{"values":[]},"mark":"point"},
   {"width":335,"height":87,"data":{"values":[]},"mark":"point"},
   {"title":{"text":"SP","offset":6},"width":335,"height":87,"transform":[{"filter":"datum.s=='SP'"}],"encoding":{"x":{"field":"t","type":"quantitative","title":null,"scale":{"zero":false,"nice":false,"padding":15},"axis":{"values":[15,20,25,30],"format":"d"}},"y":{"field":"r","type":"quantitative","title":null,"scale":{"zero":false,"nice":false,"padding":4},"axis":{"values":[1,2,3,4,5],"format":"d"}}},"layer":[{"mark":{"type":"line","color":"black","strokeWidth":4.5},"encoding":{"y":{"datum":1}}},{"mark":{"type":"area","interpolate":"monotone","fill":"#C4C4C4","fillOpacity":0.45},"encoding":{"y":{"field":"lo","type":"quantitative","title":null},"y2":{"field":"hi"}}},{"mark":{"type":"line","interpolate":"monotone","color":"#CB181D","strokeWidth":10}},{"transform":[{"filter":"datum.m==1"}],"mark":{"type":"point","filled":true,"fill":"white","stroke":"#CB181D","strokeWidth":3.5,"size":450,"opacity":1}}]},
   {"title":"RJ","width":335,"height":87,"transform":[{"filter":"datum.s=='RJ'"}],"encoding":{"x":{"field":"t","type":"quantitative","title":null,"scale":{"zero":false,"nice":false,"padding":15},"axis":{"values":[15,20,25],"format":"d"}},"y":{"field":"r","type":"quantitative","title":null,"scale":{"zero":false,"nice":false,"padding":4},"axis":{"values":[5,10],"format":"d"}}},"layer":[{"mark":{"type":"line","color":"black","strokeWidth":4.5},"encoding":{"y":{"datum":1}}},{"mark":{"type":"area","interpolate":"monotone","fill":"#C4C4C4","fillOpacity":0.45},"encoding":{"y":{"field":"lo","type":"quantitative","title":null},"y2":{"field":"hi"}}},{"mark":{"type":"line","interpolate":"monotone","color":"#CB181D","strokeWidth":10}},{"transform":[{"filter":"datum.m==1"}],"mark":{"type":"point","filled":true,"fill":"white","stroke":"#CB181D","strokeWidth":3.5,"size":450,"opacity":1}}]},
   {"title":{"text":"ES","offset":20},"width":335,"height":87,"transform":[{"filter":"datum.s=='ES'"}],"encoding":{"x":{"field":"t","type":"quantitative","title":null,"scale":{"zero":false,"nice":false,"padding":15},"axis":{"values":[15,20,25],"format":"d"}},"y":{"field":"r","type":"quantitative","title":null,"scale":{"zero":false,"nice":false,"padding":4},"axis":{"values":[1,2,3,4,5],"format":"d"}}},"layer":[{"mark":{"type":"line","color":"black","strokeWidth":4.5},"encoding":{"y":{"datum":1}}},{"mark":{"type":"area","interpolate":"monotone","fill":"#C4C4C4","fillOpacity":0.45},"encoding":{"y":{"field":"lo","type":"quantitative","title":null},"y2":{"field":"hi"}}},{"mark":{"type":"line","interpolate":"monotone","color":"#CB181D","strokeWidth":10}},{"transform":[{"filter":"datum.m==1"}],"mark":{"type":"point","filled":true,"fill":"white","stroke":"#CB181D","strokeWidth":3.5,"size":450,"opacity":1}}]},
   {"width":335,"height":87,"data":{"values":[]},"mark":"point"},

   {"width":335,"height":87,"data":{"values":[]},"mark":"point"},
   {"width":335,"height":87,"data":{"values":[]},"mark":"point"},
   {"title":"PR","width":335,"height":87,"transform":[{"filter":"datum.s=='PR'"}],"encoding":{"x":{"field":"t","type":"quantitative","title":null,"scale":{"zero":false,"nice":false,"padding":15},"axis":{"values":[10,15,20,25],"format":"d"}},"y":{"field":"r","type":"quantitative","title":null,"scale":{"zero":false,"nice":false,"padding":4},"axis":{"values":[5,10],"format":"d"}}},"layer":[{"mark":{"type":"line","color":"black","strokeWidth":4.5},"encoding":{"y":{"datum":1}}},{"mark":{"type":"area","interpolate":"monotone","fill":"#C4C4C4","fillOpacity":0.45},"encoding":{"y":{"field":"lo","type":"quantitative","title":null},"y2":{"field":"hi"}}},{"mark":{"type":"line","interpolate":"monotone","color":"#CB181D","strokeWidth":10}},{"transform":[{"filter":"datum.m==1"}],"mark":{"type":"point","filled":true,"fill":"white","stroke":"#CB181D","strokeWidth":3.5,"size":450,"opacity":1}}]},
   {"title":{"text":"SC","offset":8},"width":335,"height":87,"transform":[{"filter":"datum.s=='SC'"}],"encoding":{"x":{"field":"t","type":"quantitative","title":null,"scale":{"zero":false,"nice":false,"padding":15},"axis":{"values":[10,15,20,25],"format":"d"}},"y":{"field":"r","type":"quantitative","title":null,"scale":{"zero":false,"nice":false,"padding":4},"axis":{"values":[0,20,40,60,80],"format":"d"}}},"layer":[{"mark":{"type":"line","color":"black","strokeWidth":4.5},"encoding":{"y":{"datum":1}}},{"mark":{"type":"area","interpolate":"monotone","fill":"#C4C4C4","fillOpacity":0.45},"encoding":{"y":{"field":"lo","type":"quantitative","title":null},"y2":{"field":"hi"}}},{"mark":{"type":"line","interpolate":"monotone","color":"#CB181D","strokeWidth":10}},{"transform":[{"filter":"datum.m==1"}],"mark":{"type":"point","filled":true,"fill":"white","stroke":"#CB181D","strokeWidth":3.5,"size":450,"opacity":1}}]},
   {"width":335,"height":87,"data":{"values":[]},"mark":"point"},
   {"width":335,"height":87,"data":{"values":[]},"mark":"point"},

   {"width":335,"height":87,"data":{"values":[]},"mark":"point"},
   {"width":335,"height":87,"data":{"values":[]},"mark":"point"},
   {"title":"RS","width":335,"height":87,"transform":[{"filter":"datum.s=='RS'"}],"encoding":{"x":{"field":"t","type":"quantitative","title":null,"scale":{"zero":false,"nice":false,"padding":15},"axis":{"values":[10,15,20,25],"format":"d"}},"y":{"field":"r","type":"quantitative","title":null,"scale":{"zero":false,"nice":false,"padding":4},"axis":{"values":[0,500,1000],"format":"d"}}},"layer":[{"mark":{"type":"line","color":"black","strokeWidth":4.5},"encoding":{"y":{"datum":1}}},{"mark":{"type":"area","interpolate":"monotone","fill":"#C4C4C4","fillOpacity":0.45},"encoding":{"y":{"field":"lo","type":"quantitative","title":null},"y2":{"field":"hi"}}},{"mark":{"type":"line","interpolate":"monotone","color":"#CB181D","strokeWidth":10}},{"transform":[{"filter":"datum.m==1"}],"mark":{"type":"point","filled":true,"fill":"white","stroke":"#CB181D","strokeWidth":3.5,"size":450,"opacity":1}}]},
   {"width":335,"height":87,"data":{"values":[]},"mark":"point"},
   {"width":335,"height":87,"data":{"values":[]},"mark":"point"},
   {"width":335,"height":87,"data":{"values":[]},"mark":"point"}
  ]}
]
}
